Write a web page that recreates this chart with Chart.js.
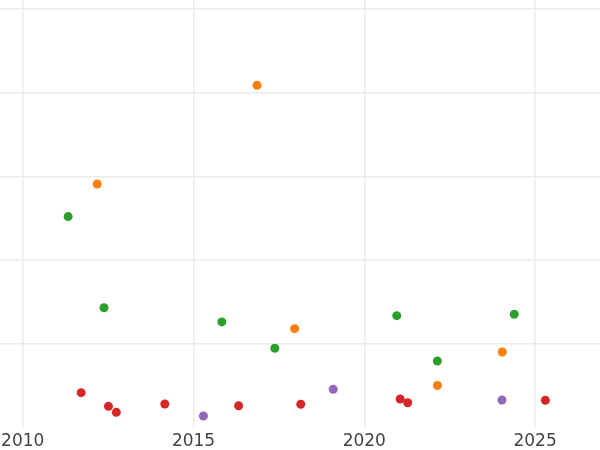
<!DOCTYPE html>
<html>
<head>
<meta charset="utf-8">
<script src="https://cdn.jsdelivr.net/npm/chart.js@4"></script>
<style>
  html, body { margin: 0; padding: 0; background: #fff; }
  canvas { display: block; }
</style>
</head>
<body>
<canvas id="chart" width="600" height="450"></canvas>
<script>
// x = year, y = value in gridline units (one unit per horizontal grid step)
const orangeX = [2016.86, 2012.18, 2017.96, 2024.04, 2022.14];
const orangeY = [4.09, 2.91, 1.18, 0.90, 0.50];

const greenX = [2011.33, 2012.38, 2015.83, 2017.38, 2020.95, 2024.39, 2022.14];
const greenY = [2.52, 1.43, 1.26, 0.945, 1.335, 1.352, 0.793];

const redX = [2011.71, 2012.51, 2012.74, 2014.16, 2016.32, 2018.14, 2021.05, 2021.27, 2025.30];
const redY = [0.414, 0.251, 0.179, 0.279, 0.258, 0.275, 0.339, 0.294, 0.323];

const purpleX = [2015.29, 2019.09, 2024.03];
const purpleY = [0.135, 0.455, 0.327];

const xTicks = [2010, 2015, 2020, 2025];

function points(xs, ys) {
  return xs.map((x, i) => ({ x: x, y: ys[i] }));
}

function serie(label, xs, ys, color) {
  return {
    label: label,
    data: points(xs, ys),
    backgroundColor: color,
    borderWidth: 0,
    pointRadius: 4.5,
    pointHoverRadius: 4.5
  };
}

const gridColor = '#ebebeb';

new Chart(document.getElementById('chart').getContext('2d'), {
  type: 'scatter',
  data: {
    datasets: [
      serie('orange', orangeX, orangeY, '#ff7f0e'),
      serie('green', greenX, greenY, '#2ca02c'),
      serie('red', redX, redY, '#d62728'),
      serie('purple', purpleX, purpleY, '#9467bd')
    ]
  },
  options: {
    responsive: false,
    animation: false,
    devicePixelRatio: 1,
    layout: { padding: 0, autoPadding: false },
    plugins: {
      legend: { display: false },
      tooltip: { enabled: false }
    },
    scales: {
      x: {
        type: 'linear',
        min: 2009.335,
        max: 2026.9,
        afterBuildTicks: (scale) => {
          scale.ticks = xTicks.map(v => ({ value: v }));
        },
        afterFit: (scale) => {
          scale.height = 22.7;
          scale.paddingLeft = 0;
          scale.paddingRight = 0;
        },
        ticks: {
          padding: 4,
          color: '#444444',
          font: { family: 'DejaVu Sans', size: 17 },
          callback: (v) => String(v)
        },
        grid: { color: gridColor, lineWidth: 1.5, drawTicks: false },
        border: { display: false }
      },
      y: {
        min: 0,
        max: 5.11,
        ticks: { display: false, stepSize: 1, includeBounds: false },
        grid: {
          color: (ctx) => (ctx.tick && ctx.tick.value === 0) ? 'rgba(0,0,0,0)' : gridColor,
          lineWidth: 1.5,
          drawTicks: false
        },
        border: { display: false }
      }
    }
  }
});
</script>
</body>
</html>
